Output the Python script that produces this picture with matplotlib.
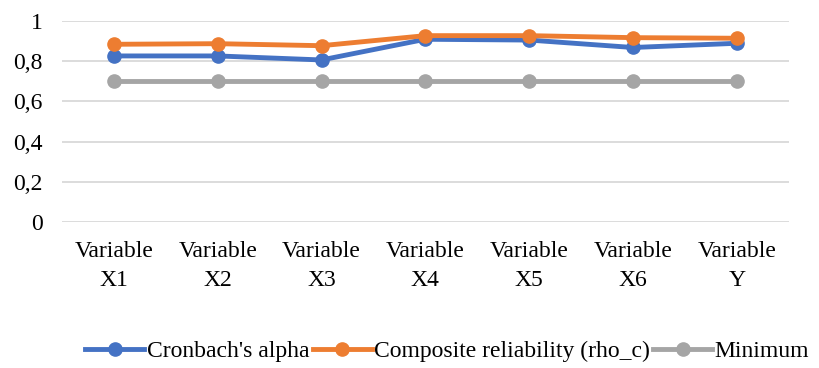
import matplotlib.pyplot as plt
from matplotlib.ticker import FuncFormatter

categories = ['Variable\nX1', 'Variable\nX2', 'Variable\nX3', 'Variable\nX4',
              'Variable\nX5', 'Variable\nX6', 'Variable\nY']
cronbach = [0.826, 0.826, 0.806, 0.909, 0.905, 0.868, 0.889]
composite = [0.884, 0.887, 0.877, 0.927, 0.927, 0.917, 0.914]
minimum = [0.7, 0.7, 0.7, 0.7, 0.7, 0.7, 0.7]

plt.rcParams['font.family'] = ['Liberation Serif', 'DejaVu Serif']
FS = 17

fig = plt.figure(figsize=(8.19, 3.68), dpi=100)
ax = fig.add_axes([0.0757, 0.397, 0.8873, 0.546])

x = list(range(len(categories)))
# grey first, orange on top of blue
ax.plot(x, minimum, color='#A5A5A5', lw=3.5, marker='o', ms=9.5, label='Minimum', zorder=3)
ax.plot(x, cronbach, color='#4472C4', lw=3.5, marker='o', ms=9.5, label="Cronbach's alpha", zorder=4)
ax.plot(x, composite, color='#ED7D31', lw=3.5, marker='o', ms=9.5,
        label='Composite reliability (rho_c)', zorder=5)

ax.set_xlim(-0.5, len(categories) - 0.5)
ax.set_ylim(0, 1)
ax.set_yticks([0, 0.2, 0.4, 0.6, 0.8, 1.0])
ax.yaxis.set_major_formatter(FuncFormatter(lambda v, p: ('%g' % round(v, 1)).replace('.', ',')))
ax.set_xticks(x)
ax.set_xticklabels(categories, linespacing=1.45)
ax.tick_params(axis='both', length=0, labelsize=FS, colors='#000000')
ax.tick_params(axis='x', pad=14)
ax.tick_params(axis='y', pad=14)
ax.grid(axis='y', color='#D9D9D9', lw=1.3)
ax.set_axisbelow(True)
for s in ax.spines.values():
    s.set_visible(False)

h, l = ax.get_legend_handles_labels()
order = [1, 2, 0]
fig.legend([h[i] for i in order], [l[i] for i in order], loc='center',
           bbox_to_anchor=(0.546, 0.045), ncol=3, frameon=False, fontsize=FS,
           handlelength=2.5, handletextpad=0.1, columnspacing=0.15,
           borderpad=0, borderaxespad=0)

fig.savefig('out.png', dpi=100)
